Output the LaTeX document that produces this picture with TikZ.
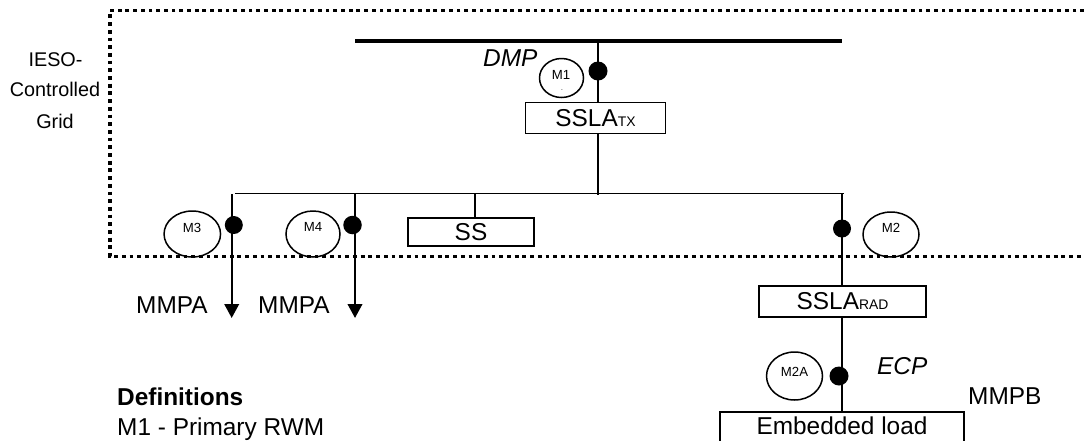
\documentclass[tikz,border=0pt]{standalone}
\usepackage{fontspec}
\setmainfont{Liberation Sans}
\usetikzlibrary{arrows.meta,shapes.geometric}
\newcommand{\fbig}{\fontsize{24.4}{28}\selectfont}
\newcommand{\fmid}{\fontsize{19.8}{24}\selectfont}
\newcommand{\fsub}{\fontsize{13.9}{16}\selectfont}
\newcommand{\fmeter}{\fontsize{13.2}{16}\selectfont}
\tikzset{
  x=1pt,y=-1pt,
  labeltext/.style={inner sep=0pt,anchor=base west,font=\fbig},
  sidetext/.style={inner sep=0pt,anchor=base,font=\fmid},
  devbox/.style={draw=black,line width=1.8pt,fill=white,rectangle,inner sep=0pt,font=\fbig},
  meter/.style={draw=black,line width=1.5pt,ellipse,inner sep=0pt},
  meterlabel/.style={inner sep=0pt,font=\fmeter},
  blackdot/.style={circle,fill=black,inner sep=0pt},
  wire/.style={line width=2.2pt,draw=black},
  thinwire/.style={line width=1.6pt,draw=black},
  border/.style={line width=3.4pt,draw=black,dash pattern=on 3.8pt off 3.9pt},
  feeder/.style={line width=2.3pt,draw=black,-{Triangle[width=14.5pt,length=14pt]}}
}
\begin{document}
\begin{tikzpicture}
\useasboundingbox (0,0) rectangle (1084,440);
\fill[white] (0,0) rectangle (1084,440);
% control boundary
\coordinate (bTR) at (1084,10.5);
\coordinate (bTL) at (110,10.5);
\coordinate (bBL) at (110,256.5);
\coordinate (bBR) at (1084,256.5);
\draw[border] (bTR) -- (bTL) -- (bBL) -- (bBR);
% coordinates
\coordinate (busL) at (355,41);
\coordinate (busR) at (842,41);
\coordinate (busTap) at (598,41);
\coordinate (hL) at (235,193.3);
\coordinate (hR) at (844,193.3);
\coordinate (hTap) at (598,195);
\coordinate (f1top) at (231.7,194);
\coordinate (f1end) at (231.7,318);
\coordinate (f2top) at (355,193);
\coordinate (f2end) at (355,318);
\coordinate (ssTap) at (475,193);
\coordinate (radTap) at (842,193);
% boxes
\node[devbox,minimum width=140pt,minimum height=31pt] (sslatx) at (595.5,118) {SSLA{\fsub TX}};
\node[devbox,minimum width=126pt,minimum height=28pt] (ss) at (471,232) {SS};
\node[devbox,minimum width=167pt,minimum height=31pt] (sslarad) at (842.5,301.5) {SSLA{\fsub RAD}};
\node[devbox,anchor=north,minimum width=244pt,inner ysep=2.5pt,text height=20.5pt,text depth=30pt] (load) at (842,411) {Embedded load};
% wires
\draw[line width=3.8pt,draw=black] (busL) -- (busR);
\draw[wire] (busTap) -- (busTap |- sslatx.north);
\draw[wire] (busTap |- sslatx.south) -- (hTap);
\draw[thinwire] (hL) -- (hR);
\draw[thinwire] (ssTap) -- (ssTap |- ss.north);
\draw[wire] (radTap) -- (radTap |- sslarad.north);
\draw[wire] (radTap |- sslarad.south) -- (radTap |- load.north);
\draw[feeder] (f1top) -- (f1end);
\draw[feeder] (f2top) -- (f2end);
% dots
\node[blackdot,minimum size=19pt] (d1) at (598,71) {};
\node[blackdot,minimum size=18pt] (d3) at (233.8,225) {};
\node[blackdot,minimum size=18.5pt] (d4) at (352.5,225) {};
\node[blackdot,minimum size=18pt] (d2) at (842,228.5) {};
\node[blackdot,minimum size=19pt] (d2a) at (839,376) {};
% meters
\node[meter,minimum width=44pt,minimum height=39pt] (m1) at (561.5,78) {};
\node[meterlabel] (m1t) at (561,75) {M1};
\node[inner sep=0pt,font=\fontsize{5}{6}\selectfont] (m1d) at (562,91) {-};
\node[meter,minimum width=56.5pt,minimum height=46pt] (m3) at (192.3,234) {};
\node[meterlabel] (m3t) at (192,228) {M3};
\node[meter,minimum width=54pt,minimum height=46pt] (m4) at (313,234) {};
\node[meterlabel] (m4t) at (313,227) {M4};
\node[meter,minimum width=56pt,minimum height=45pt] (m2) at (891,234.5) {};
\node[meterlabel] (m2t) at (891,228) {M2};
\node[meter,minimum width=56pt,minimum height=48pt] (m2a) at (794.5,376) {};
\node[meterlabel] (m2at) at (794.5,372) {M2A};
% labels
\node[sidetext] (t1) at (55.5,66) {IESO-};
\node[sidetext] (t2) at (55,96.7) {Controlled};
\node[sidetext] (t3) at (55,128) {Grid};
\node[labeltext,font=\fbig\itshape] (dmp) at (483,66) {DMP};
\node[labeltext,font=\fbig\itshape] (ecp) at (877,374) {ECP};
\node[labeltext] (ma1) at (136,313) {MMPA};
\node[labeltext] (ma2) at (258,313) {MMPA};
\node[labeltext] (mb) at (968,404) {MMPB};
\node[labeltext,font=\fbig\bfseries] (defs) at (117,405) {Definitions};
\node[labeltext] (def1) at (117,435) {M1 - Primary RWM};
\end{tikzpicture}
\end{document}
